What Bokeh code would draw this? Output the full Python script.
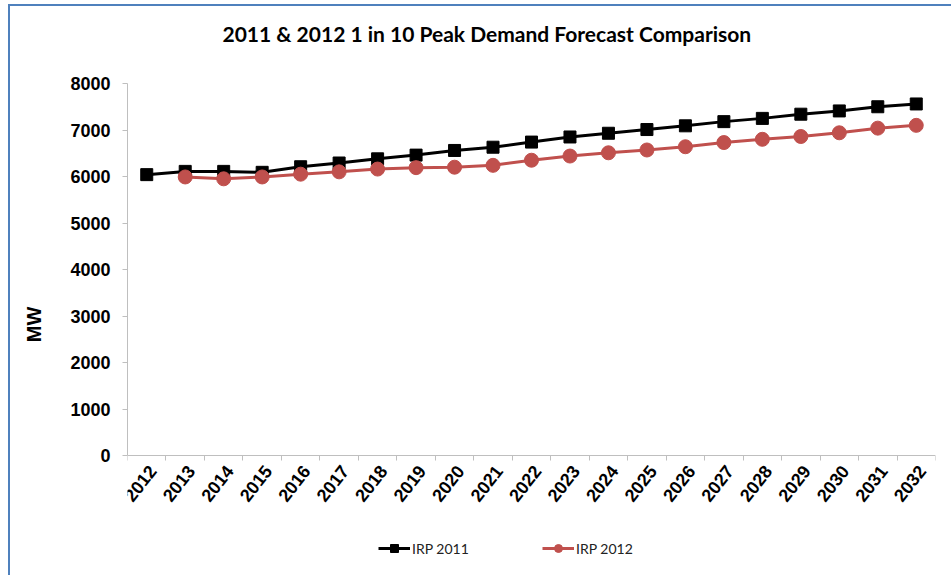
import math

from bokeh.plotting import figure
from bokeh.models import (Range1d, FixedTicker, LinearAxis, Title, Legend, LegendItem)
from bokeh.core.properties import value
from bokeh.embed import file_html
from bokeh.resources import INLINE

# Forecast years and peak demand (MW)
years = [2012, 2013, 2014, 2015, 2016, 2017, 2018, 2019, 2020, 2021, 2022,
         2023, 2024, 2025, 2026, 2027, 2028, 2029, 2030, 2031, 2032]
year_labels = [str(y) for y in years]
irp_2011 = [6040, 6110, 6110, 6090, 6210, 6290, 6380, 6460, 6560, 6630, 6740,
            6850, 6930, 7010, 7090, 7180, 7250, 7340, 7410, 7500, 7560]
years_2012 = [2013, 2014, 2015, 2016, 2017, 2018, 2019, 2020, 2021, 2022,
              2023, 2024, 2025, 2026, 2027, 2028, 2029, 2030, 2031, 2032]
irp_2012 = [5990, 5950, 5990, 6050, 6100, 6160, 6190, 6200, 6240, 6350,
            6440, 6510, 6570, 6640, 6730, 6800, 6860, 6940, 7040, 7100]
y_ticks = [0, 1000, 2000, 3000, 4000, 5000, 6000, 7000, 8000]

TITLE = "2011 & 2012 1 in 10 Peak Demand Forecast Comparison"
AXIS_GRAY = "#bfbfbf"
RED = "#C0504D"
BLUE = "#4F81BD"

# page layout (px): the canvas is lifted by SHIFT so the title panel has room
SHIFT = 24
PAGE_H = 575
TOP = 83          # y of the 8000 line
ZERO = 455        # y of the 0 line
BOTTOM_BORDER = 10
frame_bottom = PAGE_H - BOTTOM_BORDER
# extend the value range below zero so the frame also holds labels and legend
y_lo = -8000 * (frame_bottom - ZERO) / (ZERO - TOP)

# blue chart-area edge along the top and left, painted behind a transparent border
edge = ("linear-gradient({c},{c}) 8px {t}px / 2px 100% no-repeat, "
        "linear-gradient({c},{c}) 8px {t}px / 100% 2px no-repeat, white"
        ).format(c=BLUE, t=4 + SHIFT)

p = figure(width=951, height=PAGE_H + SHIFT, output_backend="svg", toolbar_location=None,
           x_range=Range1d(years[0] - 0.5, years[-1] + 0.5),
           y_range=Range1d(y_lo, 8000),
           x_axis_location=None, y_axis_location="left",
           min_border_left=127, min_border_right=16,
           min_border_top=TOP + SHIFT, min_border_bottom=BOTTOM_BORDER,
           styles={"background": edge, "margin-top": "-%dpx" % SHIFT})
p.outline_line_color = None
p.background_fill_color = "white"
p.border_fill_color = None
for g in p.grid:
    g.visible = False

# value axis
ya = p.yaxis[0]
ya.ticker = FixedTicker(ticks=y_ticks)
ya.bounds = (0, 8000)
ya.axis_line_color = AXIS_GRAY
ya.major_tick_line_color = AXIS_GRAY
ya.major_tick_out = 5
ya.major_tick_in = 0
ya.minor_tick_line_color = None
ya.major_label_text_font = "Liberation Sans"
ya.major_label_text_font_style = "bold"
ya.major_label_text_font_size = "18px"
ya.major_label_text_color = "black"
ya.major_label_standoff = 12
ya.axis_label = "MW"
ya.axis_label_text_font = "Liberation Sans"
ya.axis_label_text_font_style = "bold"
ya.axis_label_text_font_size = "20px"
ya.axis_label_text_color = "black"
ya.axis_label_standoff = 22

# year axis line at 0 with tick marks between the years
boundaries = [y - 0.5 for y in years] + [years[-1] + 0.5]
xa = LinearAxis(fixed_location=0,
                ticker=FixedTicker(ticks=[], minor_ticks=boundaries),
                axis_line_color=AXIS_GRAY,
                major_tick_line_color=None, major_tick_out=0, major_tick_in=0,
                minor_tick_line_color=AXIS_GRAY, minor_tick_out=5, minor_tick_in=0,
                major_label_standoff=0)
p.add_layout(xa, "below")

# slanted year labels under each year
label_pos = [y + 0.15 for y in years]
p.text(x=label_pos, y=[0] * len(years), text=year_labels,
       angle=math.radians(52), text_align="right", text_baseline="middle",
       y_offset=12, text_font=value("Liberation Sans"), text_font_style="bold",
       text_font_size="18px", text_color="black")

# series
l1 = p.line(years, irp_2011, line_color="black", line_width=3)
s1 = p.scatter(years, irp_2011, marker="square", size=12,
               fill_color="black", line_color="black")
l2 = p.line(years_2012, irp_2012, line_color=RED, line_width=3)
s2 = p.scatter(years_2012, irp_2012, marker="circle", size=14,
               fill_color=RED, line_color=RED)

legend = Legend(items=[LegendItem(label="IRP 2011", renderers=[l1, s1]),
                       LegendItem(label="IRP 2012", renderers=[l2, s2])],
                orientation="horizontal", location=(251, 7),
                border_line_color=None, background_fill_alpha=0,
                padding=0, margin=0, spacing=70, glyph_width=32, glyph_height=20,
                label_standoff=2, label_width=60, label_height=20,
                label_text_font="Lato", label_text_font_size="14px",
                label_text_color="#222222")
p.add_layout(legend, "center")

# chart title
p.title = Title(text=TITLE, align="left", offset=95, standoff=76,
                vertical_align="bottom", text_font="Lato",
                text_font_style="bold", text_font_size="21px", text_color="black")

open("out.html", "w").write(file_html(p, INLINE))
